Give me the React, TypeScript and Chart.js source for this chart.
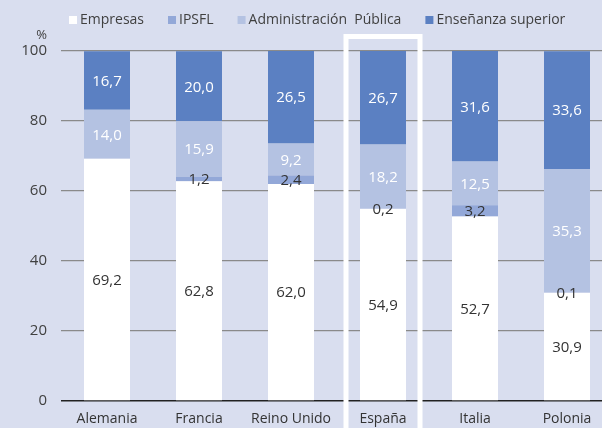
import React, { useEffect, useRef } from "react";
import { Chart, registerables } from "chart.js";

Chart.register(...registerables);

const categories = ["Alemania", "Francia", "Reino Unido", "España", "Italia", "Polonia"];
const empresas = [69.2, 62.8, 62.0, 54.9, 52.7, 30.9];
const ipsfl = [0, 1.2, 2.4, 0.2, 3.2, 0.1];
const administracion = [14.0, 15.9, 9.2, 18.2, 12.5, 35.3];
const ensenanza = [16.7, 20.0, 26.5, 26.7, 31.6, 33.6];
const seriesNames = ["Empresas", "IPSFL", "Administración  Pública", "Enseñanza superior"];
const yTickValues = [0, 20, 40, 60, 80, 100];
const highlighted = "España";
const yUnit = "%";

const FONT = "'Open Sans', 'DejaVu Sans', sans-serif";
const BG = "#d9deef";
const COLORS = ["#ffffff", "#93a8d8", "#b4c2e2", "#5b80c2"];
const LABEL_COLORS = ["#333333", "#333333", "#ffffff", "#ffffff"];

const fmt = (v: number) => v.toFixed(1).replace(".", ",");

const decorPlugin = {
  id: "decor",
  afterDatasetsDraw(chart: any) {
    const ctx = chart.ctx;
    const xs = chart.scales.x;
    const ys = chart.scales.y;
    // highlight frame
    const hi = categories.indexOf(highlighted);
    if (hi >= 0) {
      const cx = xs.getPixelForValue(hi);
      const top = ys.getPixelForValue(100) - 14.5;
      ctx.save();
      ctx.strokeStyle = "#ffffff";
      ctx.lineWidth = 5;
      ctx.beginPath();
      ctx.moveTo(cx - 37, chart.height + 10);
      ctx.lineTo(cx - 37, top);
      ctx.lineTo(cx + 37, top);
      ctx.lineTo(cx + 37, chart.height + 10);
      ctx.stroke();
      ctx.restore();
    }
    // segment labels
    ctx.save();
    ctx.font = `15px ${FONT}`;
    ctx.textAlign = "center";
    ctx.textBaseline = "middle";
    chart.data.datasets.forEach((ds: any, di: number) => {
      const meta = chart.getDatasetMeta(di);
      meta.data.forEach((bar: any, i: number) => {
        const v = ds.data[i];
        if (!v) return;
        const { x, y, base } = bar.getProps(["x", "y", "base"], true);
        ctx.fillStyle = LABEL_COLORS[di];
        ctx.fillText(fmt(v), x, (y + base) / 2 + 1);
      });
    });
    ctx.restore();
  },
  afterDraw(chart: any) {
    const ctx = chart.ctx;
    ctx.save();
    // % unit
    ctx.font = `13px ${FONT}`;
    ctx.fillStyle = "#404040";
    ctx.textAlign = "right";
    ctx.textBaseline = "middle";
    ctx.fillText(yUnit, 47, 35);
    // legend
    ctx.font = `14px ${FONT}`;
    ctx.textAlign = "left";
    let x = 69;
    const y = 20;
    chart.data.datasets.forEach((ds: any, di: number) => {
      ctx.fillStyle = COLORS[di];
      ctx.fillRect(x, y - 4, 8, 8);
      ctx.fillStyle = "#404040";
      ctx.fillText(ds.label, x + 11, y);
      x += 11 + ctx.measureText(ds.label).width + 24;
    });
    ctx.restore();
  },
};

export default function App() {
  const ref = useRef<HTMLCanvasElement | null>(null);
  useEffect(() => {
    if (!ref.current) return;
    const seriesData = [empresas, ipsfl, administracion, ensenanza];
    const chart = new Chart(ref.current, {
      type: "bar",
      data: {
        labels: categories,
        datasets: seriesData.map((d, i) => ({
          label: seriesNames[i],
          data: d,
          backgroundColor: COLORS[i],
          borderWidth: 0,
          barPercentage: 0.5,
          categoryPercentage: 1,
        })),
      },
      options: {
        responsive: false,
        animation: false,
        devicePixelRatio: 1,
        layout: { padding: { top: 51, right: 7, left: 0, bottom: 0 } },
        plugins: { legend: { display: false }, tooltip: { enabled: false } },
        scales: {
          x: {
            stacked: true,
            grid: { display: false, drawTicks: false },
            border: { display: false },
            ticks: { padding: 10, color: "#333333", font: { family: FONT, size: 14 }, maxRotation: 0 },
            afterFit: (s: any) => { s.height = 27; },
          },
          y: {
            stacked: true,
            min: 0,
            max: 100,
            afterBuildTicks: (s: any) => { s.ticks = yTickValues.map((v) => ({ value: v })); },
            grid: {
              drawTicks: false,
              color: (c: any) => (c.tick && c.tick.value === 0 ? "#222222" : "#8a8a8a"),
              lineWidth: (c: any) => (c.tick && c.tick.value === 0 ? 1.5 : 1.2),
            },
            border: { display: false },
            ticks: { padding: 14, color: "#404040", font: { family: FONT, size: 15 } },
            afterFit: (s: any) => { s.width = 61; },
          },
        },
      },
      plugins: [decorPlugin],
    });
    return () => chart.destroy();
  }, []);
  return (
    <div style={{ position: "fixed", left: 0, top: 0, width: 602, height: 428, overflow: "hidden", background: BG }}>
      <canvas ref={ref} width={620} height={428} style={{ display: "block" }} />
    </div>
  );
}
